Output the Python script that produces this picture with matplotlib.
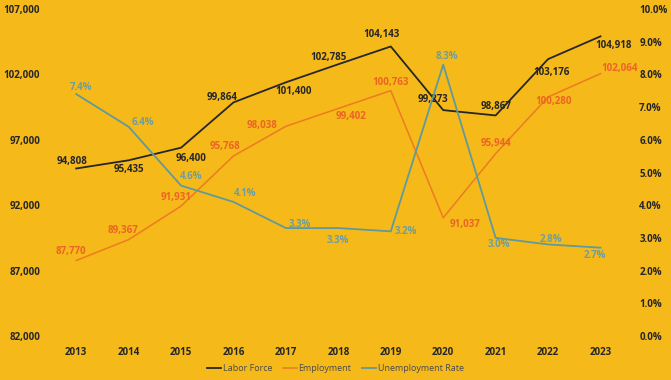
import numpy as np
import matplotlib.pyplot as plt

plt.rcParams['font.family'] = ['Open Sans', 'DejaVu Sans']

years = ['2013', '2014', '2015', '2016', '2017', '2018', '2019', '2020', '2021', '2022', '2023']
labor_force = [94808, 95435, 96400, 99864, 101400, 102785, 104143, 99273, 98867, 103176, 104918]
employment = [87770, 89367, 91931, 95768, 98038, 99402, 100763, 91037, 95944, 100280, 102064]
unemp_rate = [7.4, 6.4, 4.6, 4.1, 3.3, 3.3, 3.2, 8.3, 3.0, 2.8, 2.7]

bg = '#F5B91A'
c_lf = '#262626'
c_emp = '#EE7A22'
c_emp_lbl = '#EC6424'
c_ur = '#5F9A9C'
c_ur_lbl = '#6E9E9E'

# label offsets in pixels (dx, dy), dy up
off_lf = [(-4, 7), (0, -9), (10, -11), (-11, 5), (8, -9), (-10, 7), (-9, 12), (-10, 11), (0, 9), (3, -13), (13, -9)]
off_emp = [(-5, 9), (-6, 9), (-5, 9), (-8, 9), (-24, 1), (13, -8), (0, 8), (22, -7), (0, 10), (6, -5), (19, 5)]
off_ur = [(5, 7), (14, 4), (10, 9), (12, 8), (14, 4), (0, -12), (15, 0), (4, 8), (3, -7), (3, 5), (-6, -8)]

fig = plt.figure(figsize=(6.71, 3.80), dpi=100, facecolor=bg)
ax = fig.add_axes([0.0745, 0.116, 0.8595, 0.86])
ax.set_facecolor(bg)
ax2 = ax.twinx()

x = np.arange(len(years))
l1, = ax.plot(x, labor_force, color=c_lf, lw=1.3, label='Labor Force')
l2, = ax.plot(x, employment, color=c_emp, lw=1.1, label='Employment')
l3, = ax2.plot(x, unemp_rate, color=c_ur, lw=1.3, label='Unemployment Rate')

ax.set_xlim(-0.5, len(years) - 0.5)
ax.set_ylim(82000, 107000)
ax.set_yticks(np.arange(82000, 107001, 5000))
ax.set_yticklabels([f'{v:,}' for v in range(82000, 107001, 5000)])
ax2.set_ylim(0, 10)
ax2.set_yticks(np.arange(0, 10.01, 1))
ax2.set_yticklabels([f'{v:.1f}%' for v in np.arange(0, 10.01, 1)])
ax.set_xticks(x)
ax.set_xticklabels(years)

for a in (ax, ax2):
    for s in a.spines.values():
        s.set_visible(False)
    a.tick_params(length=0, labelsize=7, labelcolor='#262626')
    for t in a.get_xticklabels() + a.get_yticklabels():
        t.set_fontweight('bold')
ax.tick_params(axis='y', pad=7)
ax2.tick_params(axis='y', pad=9)
ax.tick_params(axis='x', pad=8)
ax.axhline(82000, color='#F7CB5A', lw=0.8)

for i in range(len(years)):
    ax.annotate(f'{labor_force[i]:,}', (x[i], labor_force[i]), xytext=off_lf[i],
                textcoords='offset pixels', ha='center', va='center',
                fontsize=7, fontweight='bold', color=c_lf)
    ax.annotate(f'{employment[i]:,}', (x[i], employment[i]), xytext=off_emp[i],
                textcoords='offset pixels', ha='center', va='center',
                fontsize=7, fontweight='bold', color=c_emp_lbl)
    ax2.annotate(f'{unemp_rate[i]:.1f}%', (x[i], unemp_rate[i]), xytext=off_ur[i],
                 textcoords='offset pixels', ha='center', va='center',
                 fontsize=7, fontweight='bold', color=c_ur_lbl)

fig.legend(handles=[l1, l2, l3], loc='center', bbox_to_anchor=(0.5, 0.03),
           ncol=3, frameon=False, fontsize=6.5, handlelength=1.5, handletextpad=0.2,
           columnspacing=1.2, labelcolor='#4A4A4A')

fig.savefig('out.png', dpi=100, facecolor=bg)
